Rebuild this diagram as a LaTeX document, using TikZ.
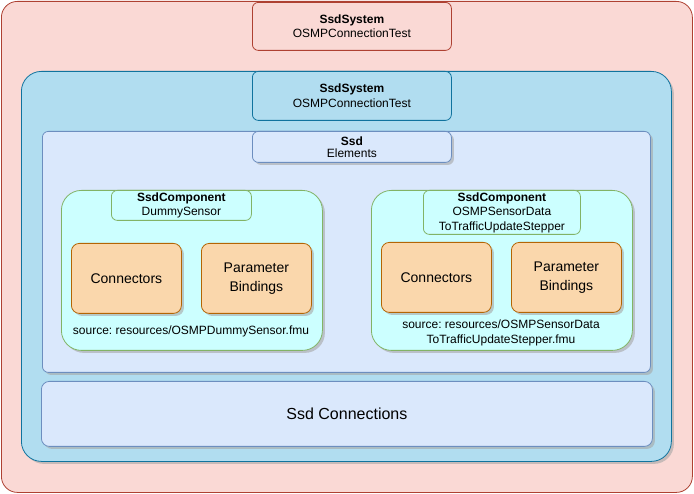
\documentclass[tikz,border=0pt]{standalone}
\usepackage{fontspec}
\setmainfont{Liberation Sans}
\usetikzlibrary{shadows}
\frenchspacing

\definecolor{sysfill}{HTML}{FAD9D5}
\definecolor{sysline}{HTML}{AE4132}
\definecolor{subfill}{HTML}{B1DDF0}
\definecolor{subline}{HTML}{10739E}
\definecolor{ssdfill}{HTML}{DAE8FC}
\definecolor{ssdline}{HTML}{6C8EBF}
\definecolor{compfill}{HTML}{CCFFFF}
\definecolor{compline}{HTML}{82B366}
\definecolor{partfill}{HTML}{FAD7AC}
\definecolor{partline}{HTML}{B46504}

\tikzset{
  box/.style={draw, anchor=north west, inner sep=0pt, line width=0.8pt},
  shade/.style={drop shadow={shadow xshift=2.5pt, shadow yshift=-2.5pt, fill=black!35, opacity=0.6}},
  title/.style={box, rounded corners=6pt, align=center, font=\fontsize{12}{14.5}\selectfont},
  part/.style={box, shade, fill=partfill, draw=partline, rounded corners=8pt, minimum width=110pt, minimum height=70pt, align=center, font=\fontsize{14}{18.5}\selectfont},
}

\begin{document}
\begin{tikzpicture}[x=1pt, y=-1pt]
\useasboundingbox (0,0) rectangle (694,494);
% outer system
\node[box, fill=sysfill, draw=sysline, rounded corners=16pt, minimum width=691pt, minimum height=491pt] (sys) at (1,1) {};
\node[title, fill=sysfill, draw=sysline, minimum width=199pt, minimum height=48pt] (systitle) at (252,2) {\textbf{SsdSystem}\\OSMPConnectionTest};
% inner system
\node[box, shade, fill=subfill, draw=subline, rounded corners=20pt, minimum width=650pt, minimum height=390pt] (sub) at (21,71) {};
\node[title, fill=subfill, draw=subline, minimum width=199pt, minimum height=49pt] (subtitle) at (252,71) {\textbf{SsdSystem}\\OSMPConnectionTest};
% elements
\node[box, shade, fill=ssdfill, draw=ssdline, rounded corners=6pt, minimum width=608pt, minimum height=241pt] (elem) at (42,131) {};
\node[title, shade, fill=ssdfill, draw=ssdline, minimum width=199pt, minimum height=31pt, font=\fontsize{12}{12}\selectfont] (elemtitle) at (252,131) {\textbf{Ssd}\\Elements};
% component 1
\node[box, shade, fill=compfill, draw=compline, rounded corners=20pt, minimum width=261pt, minimum height=160pt] (compA) at (61,190) {};
\node[title, fill=compfill, draw=compline, minimum width=140pt, minimum height=30pt, font=\fontsize{12}{13.5}\selectfont] (compAtitle) at (111,190) {\textbf{SsdComponent}\\DummySensor};
\node[part] (connA) at (71,243) {Connectors};
\node[part] (paramA) at (201,243) {Parameter\\Bindings};
\node[font=\fontsize{12}{15}\selectfont] (srcA) at (191,331) {source: resources/OSMPDummySensor.fmu};
% component 2
\node[box, shade, fill=compfill, draw=compline, rounded corners=20pt, minimum width=261pt, minimum height=160pt] (compB) at (371,190) {};
\node[title, fill=compfill, draw=compline, minimum width=157pt, minimum height=44pt] (compBtitle) at (423,190) {\textbf{SsdComponent}\\OSMPSensorData\\ToTrafficUpdateStepper};
\node[part] (connB) at (381,242) {Connectors};
\node[part] (paramB) at (511,242) {Parameter\\Bindings};
\node[align=center, font=\fontsize{12}{15}\selectfont] (srcB) at (501,333) {source: resources/OSMPSensorData\\ToTrafficUpdateStepper.fmu};
% connections
\node[box, shade, fill=ssdfill, draw=ssdline, rounded corners=8pt, minimum width=611pt, minimum height=65pt, font=\fontsize{16}{19}\selectfont] (conn) at (41,381) {Ssd Connections};
\end{tikzpicture}
\end{document}
